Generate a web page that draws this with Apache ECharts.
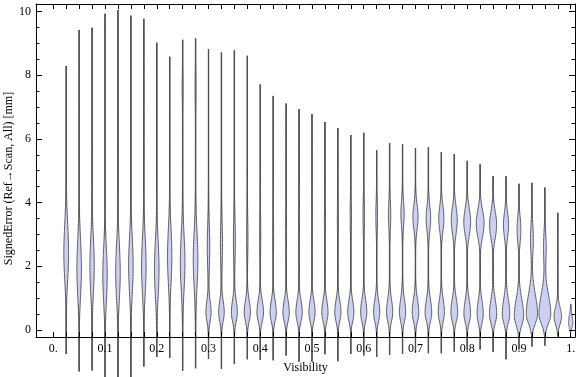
<!DOCTYPE html>
<html>
<head>
<meta charset="utf-8">
<script src="https://cdn.jsdelivr.net/npm/echarts@6/dist/echarts.min.js"></script>
<style>
html, body { margin: 0; padding: 0; background: #fff; }
#chart { width: 576px; height: 377px; }
</style>
</head>
<body>
<div id="chart"></div>
<script>
// one violin per visibility bin
let positions = [0.025, 0.05, 0.075, 0.1, 0.125, 0.15, 0.175, 0.2, 0.225, 0.25,
    0.275, 0.3, 0.325, 0.35, 0.375, 0.4, 0.425, 0.45, 0.475, 0.5,
    0.525, 0.55, 0.575, 0.6, 0.625, 0.65, 0.675, 0.7, 0.725, 0.75,
    0.775, 0.8, 0.825, 0.85, 0.875, 0.9, 0.925, 0.95, 0.975, 1.0];
// max / min of the signed error in each bin
let tops = [8.29, 9.42, 9.49, 9.93, 10.05, 9.87, 9.77, 9.02, 8.58, 9.11,
    9.15, 8.82, 8.71, 8.78, 8.61, 7.71, 7.35, 7.11, 6.93, 6.78,
    6.53, 6.34, 6.12, 6.19, 5.64, 5.87, 5.83, 5.71, 5.74, 5.58,
    5.52, 5.31, 5.20, 4.83, 4.83, 4.59, 4.62, 4.47, 3.68, 0.81];
let bottoms = [-0.75, -1.30, -1.27, -1.60, -1.60, -1.55, -1.15, -0.85, -0.87, -1.28,
    -1.20, -0.90, -1.22, -1.07, -0.92, -0.94, -0.95, -0.80, -1.00, -1.00,
    -0.76, -0.98, -0.75, -0.80, -0.84, -0.78, -0.75, -0.72, -0.73, -0.73,
    -0.68, -0.63, -0.61, -0.68, -0.92, -0.61, -0.52, -0.49, -0.20, -0.05];
// main (lower) mode of the density: centre, spread below / above, half width
let lowCenter = [2.4, 1.9, 2.0, 1.7, 1.8, 2.0, 2.0, 1.9, 2.3, 2.1,
    2.2, 0.55, 0.55, 0.55, 0.55, 0.55, 0.55, 0.55, 0.55, 0.55,
    0.55, 0.55, 0.55, 0.55, 0.55, 0.55, 0.55, 0.55, 0.55, 0.55,
    0.55, 0.52, 0.50, 0.50, 0.50, 0.45, 0.50, 0.50, 0.42, 0.22];
let lowDown = [0.85, 0.85, 0.85, 0.85, 0.85, 0.85, 0.85, 0.85, 0.85, 0.85,
    0.85, 0.28, 0.28, 0.28, 0.28, 0.28, 0.28, 0.28, 0.28, 0.28,
    0.28, 0.28, 0.28, 0.28, 0.28, 0.28, 0.28, 0.28, 0.28, 0.28,
    0.28, 0.28, 0.28, 0.28, 0.28, 0.3, 0.3, 0.3, 0.24, 0.15];
let lowUp = [0.95, 0.95, 0.9, 0.9, 0.9, 0.9, 0.9, 0.9, 0.9, 0.9,
    0.9, 0.36, 0.36, 0.38, 0.38, 0.38, 0.38, 0.38, 0.38, 0.38,
    0.38, 0.38, 0.38, 0.4, 0.4, 0.42, 0.42, 0.42, 0.42, 0.42,
    0.42, 0.42, 0.42, 0.45, 0.48, 0.52, 0.62, 0.62, 0.3, 0.25];
let lowWidth = [0.0046, 0.0044, 0.0042, 0.0042, 0.0044, 0.0044, 0.0044, 0.0044, 0.0042, 0.0045,
    0.0045, 0.0050, 0.0054, 0.0058, 0.0060, 0.0064, 0.0060, 0.0062, 0.0062, 0.0060,
    0.0060, 0.0060, 0.0060, 0.0060, 0.0060, 0.0060, 0.0060, 0.0064, 0.0064, 0.0060,
    0.0066, 0.0064, 0.0060, 0.0070, 0.0072, 0.0090, 0.0108, 0.0114, 0.0072, 0.0042];
// second (upper) mode
let upCenter = [4.6, 4.6, 4.5, 4.5, 4.5, 4.5, 4.5, 4.5, 4.5, 7.6,
    7.6, 2.6, 2.7, 2.8, 2.9, 3.0, 3.0, 3.1, 3.2, 3.3,
    3.4, 3.5, 3.6, 3.6, 3.6, 3.6, 3.65, 3.55, 3.5, 3.5,
    3.45, 3.4, 3.35, 3.3, 3.3, 3.15, 2.85, 2.6, 2.0, 0.5];
let upSpread = [0.8, 0.8, 0.8, 0.8, 0.8, 0.8, 0.8, 0.8, 0.8, 0.5,
    0.5, 0.7, 0.7, 0.7, 0.7, 0.7, 0.7, 0.7, 0.7, 0.7,
    0.6, 0.6, 0.6, 0.55, 0.5, 0.45, 0.4, 0.4, 0.4, 0.4,
    0.42, 0.42, 0.42, 0.42, 0.4, 0.42, 0.48, 0.48, 0.5, 0.5];
let upWidth = [0, 0, 0, 0, 0, 0, 0, 0, 0, 0.0008,
    0.0008, 0.0024, 0.0020, 0.0018, 0.0012, 0.0010, 0.0008, 0.0008, 0.0008, 0.0008,
    0.0010, 0.0010, 0.0012, 0.0014, 0.0016, 0.0022, 0.0032, 0.0050, 0.0044, 0.0050,
    0.0058, 0.0066, 0.0076, 0.0068, 0.0050, 0.0036, 0.0028, 0.0026, 0, 0];

let xTicks = [0, 0.025, 0.05, 0.075, 0.1, 0.125, 0.15, 0.175, 0.2, 0.225, 0.25,
    0.275, 0.3, 0.325, 0.35, 0.375, 0.4, 0.425, 0.45, 0.475, 0.5,
    0.525, 0.55, 0.575, 0.6, 0.625, 0.65, 0.675, 0.7, 0.725, 0.75,
    0.775, 0.8, 0.825, 0.85, 0.875, 0.9, 0.925, 0.95, 0.975, 1.0];
let xLabelValues = [0, 0.1, 0.2, 0.3, 0.4, 0.5, 0.6, 0.7, 0.8, 0.9, 1.0];
let xLabels = ['0.', '0.1', '0.2', '0.3', '0.4', '0.5', '0.6', '0.7', '0.8', '0.9', '1.'];
let yMajor = [0, 2, 4, 6, 8, 10];
let yMinor = [0.5, 1, 1.5, 2.5, 3, 3.5, 4.5, 5, 5.5, 6.5, 7, 7.5, 8.5, 9, 9.5];

let serif = 'Liberation Serif';

function halfWidth(i, y) {
    let s = y < lowCenter[i] ? lowDown[i] : lowUp[i];
    let d1 = (y - lowCenter[i]) / s;
    let w = lowWidth[i] * Math.exp(-0.5 * d1 * d1);
    if (upWidth[i] > 0) {
        let d2 = (y - upCenter[i]) / upSpread[i];
        w += upWidth[i] * Math.exp(-0.5 * d2 * d2);
    }
    return w;
}

function renderViolin(params, api) {
    let i = params.dataIndex;
    let x = api.value(0);
    let lo = bottoms[i], hi = tops[i];
    let n = 120;
    let right = [], left = [];
    for (let k = 0; k <= n; k++) {
        let y = lo + (hi - lo) * k / n;
        let w = halfWidth(i, y);
        right.push(api.coord([x + w, y]));
        left.push(api.coord([x - w, y]));
    }
    left.reverse();
    let pLo = api.coord([x, lo]);
    let pHi = api.coord([x, hi]);
    return {
        type: 'group',
        children: [{
            type: 'line',
            shape: { x1: pLo[0], y1: pLo[1], x2: pHi[0], y2: pHi[1] },
            style: { stroke: '#5a5a5a', lineWidth: 1.4 }
        }, {
            type: 'polygon',
            shape: { points: right.concat(left) },
            style: { fill: '#ccd1f4', stroke: '#505050', lineWidth: 0.9 }
        }]
    };
}

let chart = echarts.init(document.getElementById('chart'));

let xBase = {
    type: 'value', min: -0.0334, max: 1.0083,
    axisLine: { onZero: false, lineStyle: { color: '#000', width: 1 } },
    axisTick: { inside: true, length: 5, customValues: xTicks, lineStyle: { color: '#000' } },
    splitLine: { show: false }, z: 5
};
let yBase = {
    type: 'value', min: -0.22, max: 10.235,
    axisLine: { onZero: false, lineStyle: { color: '#000', width: 1 } },
    axisTick: { inside: true, length: 6, customValues: yMajor, lineStyle: { color: '#000' } },
    axisLabel: { show: false },
    splitLine: { show: false }, z: 5
};
let yMinorAxis = {
    type: 'value', min: -0.22, max: 10.235,
    axisLine: { show: false, onZero: false },
    axisTick: { inside: true, length: 3.5, customValues: yMinor, lineStyle: { color: '#000' } },
    axisLabel: { show: false },
    splitLine: { show: false }, z: 5
};

chart.setOption({
    animation: false,
    grid: { left: 36, right: 1, top: 4, bottom: 40, containLabel: false, outerBoundsMode: 'none' },
    xAxis: [
        Object.assign({}, xBase, {
            position: 'bottom',
            name: 'Visibility', nameLocation: 'middle', nameGap: 25, nameMoveOverlap: false,
            nameTextStyle: { color: '#000', fontFamily: serif, fontSize: 12 },
            axisLabel: {
                customValues: xLabelValues, margin: 6,
                color: '#000', fontFamily: serif, fontSize: 12,
                formatter: function (v) {
                    let j = xLabelValues.findIndex(function (t) { return Math.abs(t - v) < 1e-6; });
                    return j >= 0 ? xLabels[j] : '';
                }
            }
        }),
        Object.assign({}, xBase, { position: 'top', axisLabel: { show: false } })
    ],
    yAxis: [
        Object.assign({}, yBase, {
            position: 'left',
            name: 'SignedError (Ref\u2192Scan, All) [mm]', nameLocation: 'middle', nameGap: 21,
            nameMoveOverlap: false,
            nameTextStyle: { color: '#000', fontFamily: serif, fontSize: 12, padding: [0, 16, 0, 0] },
            axisLabel: {
                customValues: yMajor, margin: 5,
                color: '#000', fontFamily: serif, fontSize: 12,
                formatter: function (v) { return String(v); }
            }
        }),
        Object.assign({}, yBase, { position: 'right' }),
        Object.assign({}, yMinorAxis, { position: 'left' }),
        Object.assign({}, yMinorAxis, { position: 'right' })
    ],
    series: [{
        type: 'custom',
        xAxisIndex: 0,
        yAxisIndex: 0,
        clip: false,
        z: 2,
        renderItem: renderViolin,
        data: positions.map(function (p) { return [p]; })
    }]
});
</script>
</body>
</html>
